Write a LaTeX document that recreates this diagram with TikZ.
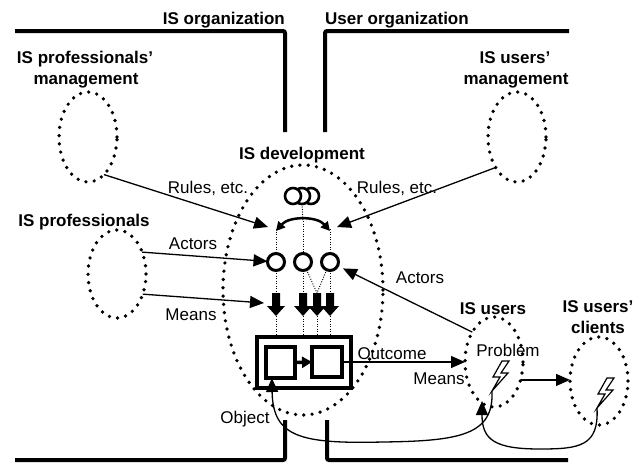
\documentclass[tikz,border=0pt]{standalone}
\usepackage{fontspec}
\setmainfont{Liberation Sans}
\usetikzlibrary{arrows.meta,shapes.geometric,calc}

\tikzset{
  lbl/.style={font=\fontsize{17}{20}\selectfont, inner sep=0pt, anchor=base},
  head/.style={lbl, font=\fontsize{17}{20}\selectfont\bfseries},
  wall/.style={line width=4pt, rounded corners=2pt},
  dotring/.style={draw, ellipse, line width=3.7pt, dash pattern=on 0pt off 8.3pt,
    line cap=round, inner sep=0pt, outer sep=0pt},
  link/.style={line width=1.3pt, -{Triangle[length=14pt,width=12pt]}},
  fine/.style={line width=0.9pt, dash pattern=on 1pt off 1.5pt},
  ring/.style={draw, circle, line width=3pt, minimum size=17pt, inner sep=0pt,
    outer sep=0pt, fill=white},
  boxthick/.style={draw, rectangle, line width=3.5pt, inner sep=0pt, outer sep=0pt},
  zigbolt/.pic={
    \draw[line width=1.2pt, line join=miter, fill=white]
      (0,0) -- (7,0) -- (-1,12) -- (6,12) -- (-10,30) -- (-2,16) -- (-9,16) -- cycle;
    \coordinate (-tip) at (-10,30);
  },
}

% downward-pointing block arrow at horizontal position #2
\newcommand\dropArrow[2]{%
  \fill (#2-4,293) -- (#2+4,293) -- (#2+4,306) -- (#2+9,306) -- (#2,316)
        -- (#2-9,306) -- (#2-4,306) -- cycle;
  \coordinate (#1t) at (#2,293);
  \coordinate (#1b) at (#2,316);
}

\begin{document}
\begin{tikzpicture}[x=1pt,y=-1pt]
\useasboundingbox (0,0) rectangle (633,464);

% organization boundaries
\draw[wall] (15,31) -- (285,31) -- (285,132);
\draw[wall] (569,31) -- (325,31) -- (325,132);
\draw[wall] (15,460) -- (285,460) -- (285,420);
\draw[wall] (568,460) -- (327,460) -- (327,420);

\node[head, anchor=base east] (tOrgIS) at (285,24) {IS organization};
\node[head, anchor=base west] (tOrgUser) at (325,24) {User organization};

% actor groups
\node[dotring, minimum width=160pt, minimum height=250pt] (dev) at (303,290) {};
\node[dotring, minimum width=58pt, minimum height=90pt] (pm) at (88,137) {};
\node[dotring, minimum width=58pt, minimum height=90pt] (um) at (517,137) {};
\node[dotring, minimum width=58pt, minimum height=88pt] (prof) at (117,274) {};
\node[dotring, minimum width=58pt, minimum height=90pt] (users) at (494,362) {};
\node[dotring, minimum width=58pt, minimum height=88pt] (clients) at (599,381) {};

\node[head] (tPM1) at (85,63) {IS professionals’};
\node[head] (tPM2) at (86,84) {management};
\node[head] (tUM1) at (515,63) {IS users’};
\node[head] (tUM2) at (516,84) {management};
\node[head] (tDev) at (302,159) {IS development};
\node[head] (tProf) at (84,226) {IS professionals};
\node[head] (tUsers) at (493,314) {IS users};
\node[head] (tCl1) at (598,312) {IS users’};
\node[head] (tCl2) at (598,333) {clients};

% rule set (three linked rings)
\node[ring, minimum size=16pt, line width=2.6pt] (o3) at (311,196) {};
\node[ring, minimum size=16pt, line width=2.6pt] (o2) at (302,196) {};
\node[ring, minimum size=16pt, line width=2.6pt] (o1) at (293,196) {};

\coordinate (rl) at (276,231);
\coordinate (rr) at (330,231);
\coordinate (rtop) at (303,221);
\draw[line width=2.5pt, {Triangle[length=9pt,width=9pt]}-{Triangle[length=9pt,width=9pt]}]
  (rl) .. controls (289,216) and (317,216) .. (rr);
\draw[fine] (o2.south) -- (rtop);

% actors
\node[ring] (c1) at (276,262) {};
\node[ring] (c2) at (303,262) {};
\node[ring] (c3) at (330,262) {};
\draw[fine] ([yshift=2pt]rl) -- (c1);
\draw[fine] ([yshift=2pt]rr) -- (c3);
\draw[fine] (rtop) -- (c2);

% means
\dropArrow{a1}{276}
\dropArrow{a2}{303}
\dropArrow{a3}{317}
\dropArrow{a4}{330}
\draw[fine] (c1) -- (a1t);
\draw[fine] (c2) -- (a2t);
\draw[fine] (c2) -- (a3t);
\draw[fine] (c3) -- (a3t);
\draw[fine] (c3) -- (a4t);

% the system being developed
\node[boxthick, minimum width=94pt, minimum height=51pt] (outer) at (304,362.5) {};
\node[boxthick, minimum width=29pt, minimum height=31pt] (bx1) at (280.5,362.5) {};
\node[boxthick, minimum width=30pt, minimum height=30pt] (bx2) at (327,362) {};
\draw[line width=3.5pt, -{Triangle[length=10pt,width=11pt]}] (bx1.east) -- (bx2.west);
\draw[fine] (a1b) -- (a1b |- outer.north);
\draw[fine] (a2b) -- (a2b |- outer.north);
\draw[fine] (a3b) -- (a3b |- outer.north);
\draw[fine] (a4b) -- (a4b |- outer.north);

% problems
\pic (pb1) at (502,361) {zigbolt};
\pic (pb2) at (607,378) {zigbolt};

% flows
\coordinate (rulesL) at (268,227);
\coordinate (rulesR) at (337,227);
\coordinate (meansTip) at (264,303);
\coordinate (meansTipR) at (482,401);
\coordinate (objTip) at ($(bx1.south west)!0.2!(bx1.south east)$);

\draw[link] (pm.-67) -- (rulesL);
\draw[link] (um.-125) -- (rulesR);
\draw[link] (prof.41) -- (c1);
\draw[link] (prof.-38.7) -- (meansTip);
\draw[link, shorten >=6pt] (users.126.9) -- (c3);
\draw[link] (bx2.east) -- (users.west);
\draw[link] (users.-34) -- (users.-34 -| clients.west);
\draw[link] (pb1-tip) .. controls (494,435) and (460,441) .. (383,442)
  .. controls (300,444) and (273,437) .. (objTip);
\draw[link] (pb2-tip) .. controls (599,446) and (580,449) .. (540,449)
  .. controls (495,449) and (482,440) .. (meansTipR);

% flow labels
\node[lbl] (tRulesL) at (208,193) {Rules, etc.};
\node[lbl] (tRulesR) at (397,193) {Rules, etc.};
\node[lbl] (tActL) at (193,249) {Actors};
\node[lbl] (tMeansL) at (191,320) {Means};
\node[lbl] (tActR) at (420,283) {Actors};
\node[lbl] (tOut) at (392,359) {Outcome};
\node[lbl] (tMeansR) at (439,384) {Means};
\node[lbl] (tProb) at (508,356) {Problem};
\node[lbl] (tObj) at (245,423) {Object};
\end{tikzpicture}
\end{document}
